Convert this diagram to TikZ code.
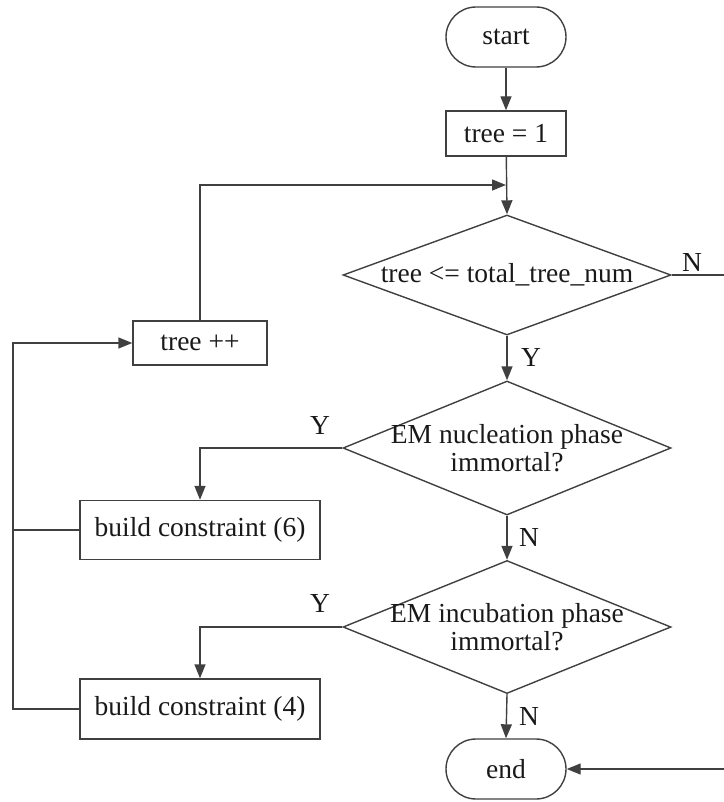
\documentclass[tikz,border=0pt]{standalone}
\usepackage{fontspec}
\setmainfont{Liberation Serif}
\usetikzlibrary{shapes.geometric,arrows.meta}
\begin{document}
\begin{tikzpicture}[x=1pt,y=-1pt,
  every node/.style={font=\fontsize{27.5}{31}\selectfont, text=black!90},
  line/.style={draw=black!75, line width=1.4pt},
  arr/.style={line, -{Triangle[length=14pt,width=11pt]}},
  term/.style={draw=black!75, line width=1.4pt, rectangle, rounded corners=30pt, minimum width=120pt, minimum height=60pt, inner sep=0pt},
  proc/.style={draw=black!75, line width=1.4pt, rectangle, inner sep=0pt},
  dia/.style={draw=black!75, line width=1.4pt, diamond, minimum width=328pt, inner sep=0pt},
  lbl/.style={inner sep=0pt}
]
\useasboundingbox (0,0) rectangle (723,802);

\node[term] (start) at (506,37) {start};
\node[proc, minimum width=120pt, minimum height=45pt] (t1) at (506,133.5) {tree = 1};
\node[dia, minimum height=120pt] (d1) at (507,275) {};
\node[lbl] at (d1) {tree <= total\_tree\_num};
\node[proc, minimum width=134pt, minimum height=44pt] (tpp) at (200,343) {tree ++};
\node[dia, minimum height=134pt] (d2) at (507,448) {};
\node[lbl, align=center] at (d2) {EM nucleation phase\\[-3pt]immortal?};
\node[proc, minimum width=240pt, minimum height=59pt] (b6) at (200,530) {build constraint (6)};
\node[dia, minimum height=133pt] (d3) at (507,627) {};
\node[lbl, align=center] at (d3) {EM incubation phase\\[-3pt]immortal?};
\node[proc, minimum width=240pt, minimum height=60pt] (b4) at (200,709) {build constraint (4)};
\node[term] (end) at (506,769) {end};

\coordinate (j1) at (506,185);
\coordinate (lx) at (13,0);
\coordinate (rx) at (740,0);

\draw[arr] (start) -- (t1);
\draw[arr] (t1) -- (d1.north);
\draw[arr] (tpp.north) |- (j1);
\draw[arr] (d1.south) -- (d2.north);
\draw[arr] (d2.south) -- (d3.north);
\draw[arr] (d3.south) -- (end.north);
\draw[arr] (d1.east) -- (d1.east -| rx) |- (end.east);
\draw[arr] (d2.west) -| (b6.north);
\draw[arr] (d3.west) -| (b4.north);
\draw[line] (b6.west) -- (b6.west -| lx);
\draw[arr] (b4.west) -- (b4.west -| lx) |- (tpp.west);

\node[lbl] at (692,262) {N};
\node[lbl] at (531,357) {Y};
\node[lbl] at (529,537) {N};
\node[lbl] at (529,716) {N};
\node[lbl] at (320,425) {Y};
\node[lbl] at (320,603) {Y};
\end{tikzpicture}
\end{document}
